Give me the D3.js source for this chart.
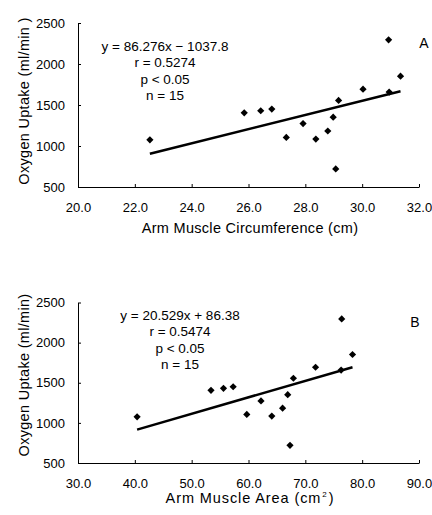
<!DOCTYPE html>
<html lang="en">
<head>
  <meta charset="UTF-8">
  <title>Oxygen Uptake vs Arm Muscle</title>
  <script src="https://d3js.org/d3.v7.min.js"></script>
  <style>
    body {
      margin: 0;
      padding: 0;
      background: #fff;
    }
    svg text {
      font-family: "Liberation Sans", Arial, sans-serif;
      font-size: 13px;
      fill: #000;
    }
    .axis path, .axis line {
      stroke: #000;
      stroke-width: 1px;
    }
    .trend {
      fill: none;
      stroke: #000;
      stroke-width: 2.5px;
    }
    .title {
      font-size: 14.5px;
    }
    .stats {
      font-size: 13.5px;
    }
  </style>
</head>
<body>
  <div id="chart"></div>

  <script>
// same 15 subjects in both panels
const uptake = [1075, 1405, 1430, 1450, 1105, 1274, 1085, 1183, 1352, 720, 1556, 1693, 2295, 1658, 1852];
const circumference = [22.53, 25.85, 26.43, 26.82, 27.33, 27.92, 28.37, 28.79, 28.98, 29.07, 29.17, 30.03, 30.93, 30.95, 31.35];
const area = [40.4, 53.4, 55.6, 57.3, 59.7, 62.2, 64.1, 66.0, 66.9, 67.3, 67.9, 71.8, 76.4, 76.3, 78.3];

const yTicks = [500, 1000, 1500, 2000, 2500];
const xTicksA = [20, 22, 24, 26, 28, 30, 32];
const xTicksB = [30, 40, 50, 60, 70, 80, 90];

const statsA = ["y = 86.276x \u2212 1037.8", "r = 0.5274", "p < 0.05", "n = 15"];
const statsB = ["y = 20.529x + 86.38", "r = 0.5474", "p < 0.05", "n = 15"];

const fitA = [86.276, -1037.8];
const fitB = [20.529, 86.38];

const svg = d3.select("#chart")
  .append("svg")
  .attr("width", 432)
  .attr("height", 515);

const panels = [
  {
    xs: circumference, xDomain: [20, 32], xTicks: xTicksA, fit: fitA, stats: statsA,
    top: 23, bottom: 187, letter: "A", letterPos: [424, 48],
    statsPos: [165, 46], yTitle: "Oxygen Uptake (ml/min )", yTitleY: 101,
    xTitle: ["Arm Muscle Circumference (cm)"], xTitleY: 233, spacing: 0.3
  },
  {
    xs: area, xDomain: [30, 90], xTicks: xTicksB, fit: fitB, stats: statsB,
    top: 302.5, bottom: 463, letter: "B", letterPos: [415, 327],
    statsPos: [180, 315], yTitle: "Oxygen Uptake (ml/min)", yTitleY: 375,
    xTitle: ["Arm Muscle Area (cm", "2", ")"], xTitleY: 503, spacing: 0.9
  }
];

const left = 78, right = 419;

panels.forEach(p => {
  const x = d3.scaleLinear().domain(p.xDomain).range([left, right]);
  const y = d3.scaleLinear().domain([500, 2500]).range([p.bottom, p.top]);

  const g = svg.append("g");

  g.append("g")
    .attr("class", "axis")
    .attr("transform", `translate(${left},0)`)
    .call(d3.axisLeft(y).tickValues(yTicks).tickSizeInner(-3).tickSizeOuter(0).tickPadding(13)
      .tickFormat(d3.format("d")))
    .call(a => a.selectAll("text").style("font-size", "13px").style("font-family", null));

  g.append("g")
    .attr("class", "axis")
    .attr("transform", `translate(0,${p.bottom})`)
    .call(d3.axisBottom(x).tickValues(p.xTicks).tickSizeInner(-3).tickSizeOuter(0).tickPadding(16)
      .tickFormat(d3.format(".1f")))
    .call(a => a.selectAll("text").style("font-size", "13px").style("font-family", null));

  // trend line over the range of the data
  const [x0, x1] = d3.extent(p.xs);
  const line = d3.line().x(d => x(d)).y(d => y(p.fit[0] * d + p.fit[1]));
  g.append("path")
    .attr("class", "trend")
    .attr("d", line([x0, x1]));

  g.append("g")
    .selectAll("path")
    .data(p.xs.map((v, i) => [v, uptake[i]]))
    .join("path")
    .attr("d", d3.symbol(d3.symbolSquare, 26)())
    .attr("transform", d => `translate(${x(d[0])},${y(d[1])}) rotate(45)`)
    .attr("fill", "#000");

  g.append("g")
    .selectAll("text")
    .data(p.stats)
    .join("text")
    .attr("class", "stats")
    .attr("x", p.statsPos[0])
    .attr("y", (d, i) => p.statsPos[1] + i * 16.5)
    .attr("dy", "0.35em")
    .attr("text-anchor", "middle")
    .text(d => d);

  g.append("text")
    .attr("x", p.letterPos[0])
    .attr("y", p.letterPos[1])
    .attr("text-anchor", "middle")
    .style("font-size", "14px")
    .text(p.letter);

  g.append("text")
    .attr("class", "title")
    .attr("transform", `translate(24,${p.yTitleY}) rotate(-90)`)
    .attr("dy", "0.35em")
    .attr("text-anchor", "middle")
    .style("letter-spacing", "0.3px")
    .text(p.yTitle);

  const xt = g.append("text")
    .attr("class", "title")
    .attr("x", 250)
    .attr("y", p.xTitleY)
    .attr("text-anchor", "middle")
    .style("letter-spacing", p.spacing + "px");
  xt.append("tspan").text(p.xTitle[0]);
  if (p.xTitle.length > 1) {
    xt.append("tspan").attr("dx", 1).attr("dy", -6).style("font-size", "8px").text(p.xTitle[1]);
    xt.append("tspan").attr("dx", 1).attr("dy", 6).text(p.xTitle[2]);
  }
});
  </script>
</body>
</html>
